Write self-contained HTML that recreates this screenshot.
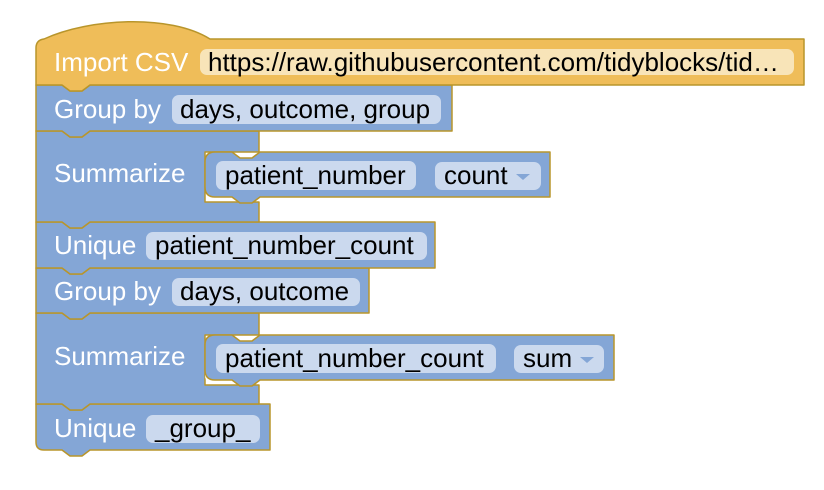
<!DOCTYPE html>
<html><head><meta charset="utf-8"><style>
html,body{margin:0;padding:0;background:#fff;}
svg{display:block;}
text{font-family:"Liberation Sans",Arial,sans-serif;font-size:26px;}
.l{fill:#fff;}
.d{fill:#000;}
</style></head><body>
<svg width="824" height="490" viewBox="0 0 824 490" xmlns="http://www.w3.org/2000/svg">
<g stroke="#b8952b" stroke-width="1.5" stroke-linejoin="round">
<!-- Unique 2 -->
<path d="M36 404 H62 l8 6 h12 l8 -6 H270 V450 H90 l-8 6 h-12 l-8 -6 H44 Q36 450 36 442 Z" fill="#84a6d6"/>
<!-- Summarize 2 -->
<path d="M36 313 H62 l8 6 h12 l8 -6 H259 V335 H205 V385 H259 V404 H90 l-8 6 h-12 l-8 -6 H36 Z" fill="#84a6d6"/>
<path d="M205 345 Q205 337 213 337 V383 Q205 383 205 375 Z" fill="#fff" stroke="none"/>
<path d="M215 335 H232 l8 6 h12 l8 -6 H614 V380 H260 l-8 6 h-12 l-8 -6 H215 Q205 380 205 370 V345 Q205 335 215 335 Z" fill="#84a6d6"/>
<!-- Group by 2 -->
<path d="M36 268 H62 l8 6 h12 l8 -6 H369 V313 H90 l-8 6 h-12 l-8 -6 H36 Z" fill="#84a6d6"/>
<!-- Unique 1 -->
<path d="M36 222 H62 l8 6 h12 l8 -6 H435 V268 H90 l-8 6 h-12 l-8 -6 H36 Z" fill="#84a6d6"/>
<!-- Summarize 1 -->
<path d="M36 131 H62 l8 6 h12 l8 -6 H259 V152 H205 V202 H259 V222 H90 l-8 6 h-12 l-8 -6 H36 Z" fill="#84a6d6"/>
<path d="M215 152 H232 l8 6 h12 l8 -6 H550 V197 H260 l-8 6 h-12 l-8 -6 H215 Q205 197 205 187 V162 Q205 152 215 152 Z" fill="#84a6d6"/>
<!-- Group by 1 -->
<path d="M36 85 H62 l8 6 h12 l8 -6 H452 V131 H90 l-8 6 h-12 l-8 -6 H36 Z" fill="#84a6d6"/>
<!-- Import CSV -->
<path d="M36 48 Q36 40 44 39 C90 18 170 14 210 39 H804 V85 H90 l-8 6 h-12 l-8 -6 H36 Z" fill="#efbd59"/>
</g>
<g>
<rect x="200" y="49" width="594" height="26" rx="7" fill="#f8e4b8"/>
<rect x="172" y="95" width="269" height="29" rx="7" fill="#cbd9ee"/>
<rect x="216" y="161" width="200" height="29" rx="7" fill="#cbd9ee"/>
<rect x="435" y="162" width="106" height="28" rx="7" fill="#cbd9ee"/>
<rect x="146" y="232" width="281" height="28" rx="7" fill="#cbd9ee"/>
<rect x="172" y="278" width="188" height="28" rx="7" fill="#cbd9ee"/>
<rect x="216" y="344" width="280" height="29" rx="7" fill="#cbd9ee"/>
<rect x="514" y="345" width="90" height="28" rx="7" fill="#cbd9ee"/>
<rect x="146" y="415" width="114" height="28" rx="7" fill="#cbd9ee"/>
<path d="M516 174 h14 l-7 6 Z" fill="#84a6d6"/>
<path d="M580 357 h14 l-7 6 Z" fill="#84a6d6"/>
</g>
<text class="l" x="54" y="71">Import CSV</text>
<text class="d" x="208" y="71">https://raw.githubusercontent.com/tidyblocks/tid…</text>
<text class="l" x="54" y="118">Group by</text>
<text class="d" x="180" y="118">days, outcome, group</text>
<text class="l" x="54" y="182">Summarize</text>
<text class="d" x="225" y="184">patient_number</text>
<text class="d" x="444" y="184">count</text>
<text class="l" x="54" y="254">Unique</text>
<text class="d" x="155" y="254">patient_number_count</text>
<text class="l" x="54" y="300">Group by</text>
<text class="d" x="180" y="300">days, outcome</text>
<text class="l" x="54" y="365">Summarize</text>
<text class="d" x="225" y="367">patient_number_count</text>
<text class="d" x="523" y="367">sum</text>
<text class="l" x="54" y="437">Unique</text>
<text class="d" x="155" y="437">_group_</text>
</svg>
</body></html>
